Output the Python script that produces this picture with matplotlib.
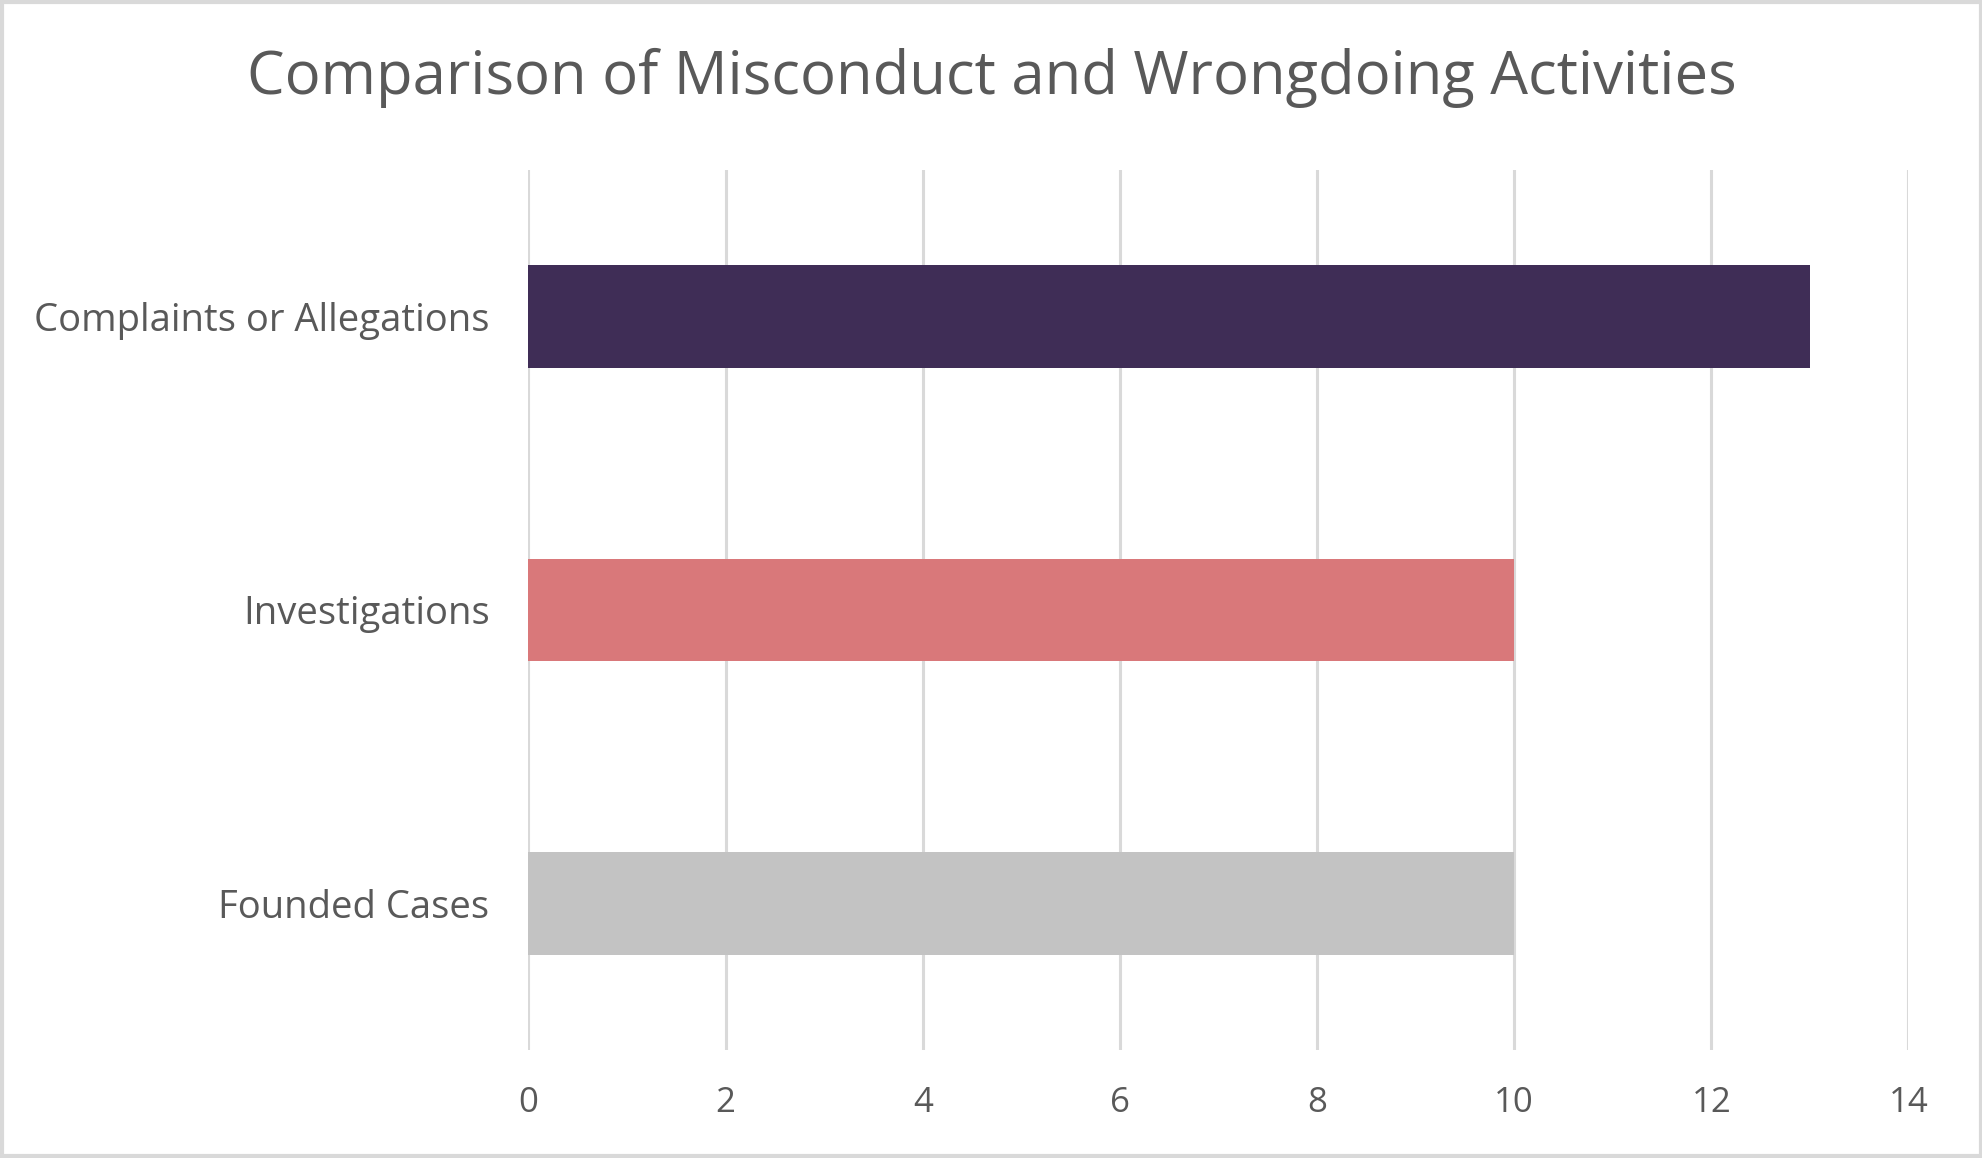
import matplotlib.pyplot as plt
from matplotlib.patches import Rectangle

# data
categories = ["Complaints or Allegations", "Investigations", "Founded Cases"]
counts = [13, 10, 10]
bar_colors = ["#3f2d56", "#d9787a", "#c3c3c3"]
x_ticks = [0, 2, 4, 6, 8, 10, 12, 14]

text_color = "#595959"
grid_color = "#d9d9d9"
plt.rcParams["font.family"] = ["Open Sans", "DejaVu Sans"]

fig = plt.figure(figsize=(19.83, 11.58), dpi=100)
ax = fig.add_axes([0.2665, 0.0933, 0.6959, 0.7599])

# first category at the top
ypos = [2, 1, 0]
ax.barh(ypos, counts, height=0.35, color=bar_colors, zorder=3)

ax.set_xlim(0, 14)
ax.set_ylim(-0.5, 2.5)
ax.set_xticks(x_ticks)
ax.set_yticks(ypos)
ax.set_yticklabels(categories)
ax.grid(axis="x", color=grid_color, linewidth=2.2, zorder=0)
for s in ax.spines.values():
    s.set_visible(False)
ax.tick_params(axis="both", length=0, labelcolor=text_color)
ax.tick_params(axis="y", pad=28, labelsize=27.5)
ax.tick_params(axis="x", pad=26, labelsize=25)

fig.text(0.5, 1 - 78 / 1158, "Comparison of Misconduct and Wrongdoing Activities",
         ha="center", va="center", fontsize=43, color=text_color)

# light border around the chart area
fig.patches.append(Rectangle((0.001, 0.002), 0.998, 0.996, transform=fig.transFigure,
                             fill=False, edgecolor=grid_color, linewidth=3))

fig.savefig("out.png", dpi=100)
